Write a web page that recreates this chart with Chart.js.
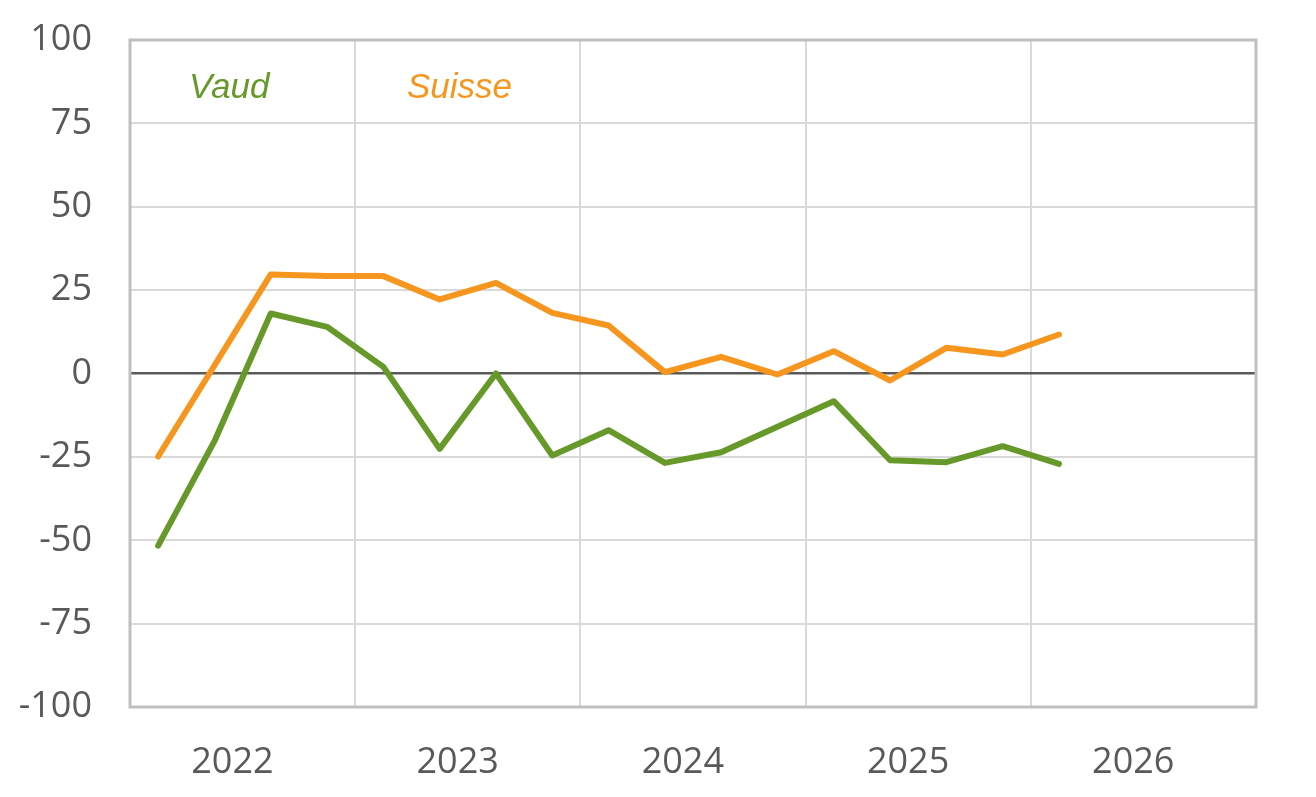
<!DOCTYPE html>
<html>
<head>
<meta charset="utf-8">
<script src="https://cdn.jsdelivr.net/npm/chart.js@4"></script>
<style>
  html, body { margin: 0; padding: 0; background: #fff; }
  #wrap { width: 1316px; height: 797px; }
</style>
</head>
<body>
<div id="wrap"><canvas id="chart" width="1316" height="797"></canvas></div>
<script>
// trimestres
const quarters = [
  "2022 T1", "2022 T2", "2022 T3", "2022 T4",
  "2023 T1", "2023 T2", "2023 T3", "2023 T4",
  "2024 T1", "2024 T2", "2024 T3", "2024 T4",
  "2025 T1", "2025 T2", "2025 T3", "2025 T4",
  "2026 T1", "2026 T2", "2026 T3", "2026 T4"
];
const years = ["2022", "2023", "2024", "2025", "2026"];
const yTicks = [-100, -75, -50, -25, 0, 25, 50, 75, 100];

const vaud = [-51.6, -20.3, 18.0, 14.0, 2.0, -22.6, 0.0, -24.6, -17.0, -26.8, -23.6, -16.0, -8.3, -26.0, -26.6, -21.8, -27.1];
const suisse = [-24.9, 2.4, 29.7, 29.2, 29.2, 22.2, 27.2, 18.2, 14.4, 0.4, 5.0, -0.3, 6.7, -2.1, 7.7, 5.7, 11.7];

const seriesLabels = ["Vaud", "Suisse"];
const seriesColors = ["#66992A", "#F7961F"];

const tickColor = "#595959";
const gridColor = "#D9D9D9";
const frameColor = "#BFBFBF";

// cadre gris + étiquettes Vaud / Suisse
const framePlugin = {
  id: "frame",
  beforeDatasetsDraw(chart) {
    const a = chart.chartArea;
    const ctx = chart.ctx;
    ctx.save();
    ctx.strokeStyle = frameColor;
    ctx.lineWidth = 3;
    ctx.strokeRect(a.left, a.top, a.right - a.left, a.bottom - a.top);
    ctx.restore();
  },
  afterDatasetsDraw(chart) {
    const a = chart.chartArea;
    const ctx = chart.ctx;
    const offs = [59, 277];
    ctx.save();
    ctx.font = 'italic 35px "Liberation Sans", Arial, sans-serif';
    ctx.textBaseline = "alphabetic";
    ctx.textAlign = "left";
    seriesLabels.forEach((lab, i) => {
      ctx.fillStyle = seriesColors[i];
      ctx.fillText(lab, a.left + offs[i], a.top + 58);
    });
    ctx.restore();
  }
};

const ctx = document.getElementById("chart");
new Chart(ctx, {
  type: "line",
  data: {
    labels: quarters,
    datasets: [
      {
        label: seriesLabels[0],
        data: vaud,
        borderColor: seriesColors[0],
        borderWidth: 6,
        pointRadius: 0,
        borderCapStyle: "round",
        borderJoinStyle: "round",
        tension: 0
      },
      {
        label: seriesLabels[1],
        data: suisse,
        borderColor: seriesColors[1],
        borderWidth: 6,
        pointRadius: 0,
        borderCapStyle: "round",
        borderJoinStyle: "round",
        tension: 0
      }
    ]
  },
  options: {
    responsive: false,
    animation: false,
    layout: { padding: { left: 0, right: 60, top: 40, bottom: 0 } },
    plugins: {
      legend: { display: false },
      tooltip: { enabled: false }
    },
    scales: {
      x: {
        type: "category",
        offset: true,
        grid: {
          offset: true,
          drawTicks: false,
          lineWidth: 2,
          color: c => (c.index % 4 === 0 ? gridColor : "rgba(0,0,0,0)")
        },
        border: { display: false },
        ticks: {
          autoSkip: false,
          maxRotation: 0,
          minRotation: 0,
          padding: 34,
          labelOffset: 18,
          color: tickColor,
          font: { family: '"Open Sans", sans-serif', size: 36 },
          callback: (v, i) => (i % 4 === 1 ? years[Math.floor(i / 4)] : "")
        },
        afterFit: s => { s.height = 90; }
      },
      y: {
        min: -100,
        max: 100,
        afterBuildTicks: s => { s.ticks = yTicks.map(v => ({ value: v })); },
        grid: {
          drawTicks: true,
          tickLength: 38,
          tickColor: "rgba(0,0,0,0)",
          lineWidth: c => (c.tick.value === 0 ? 2.5 : 2),
          color: c => (c.tick.value === 0 ? "#595959" : gridColor)
        },
        border: { display: false },
        ticks: {
          padding: 0,
          color: tickColor,
          font: { family: '"Open Sans", sans-serif', size: 36 }
        },
        afterFit: s => { s.width = 130; }
      }
    }
  },
  plugins: [framePlugin]
});
</script>
</body>
</html>
